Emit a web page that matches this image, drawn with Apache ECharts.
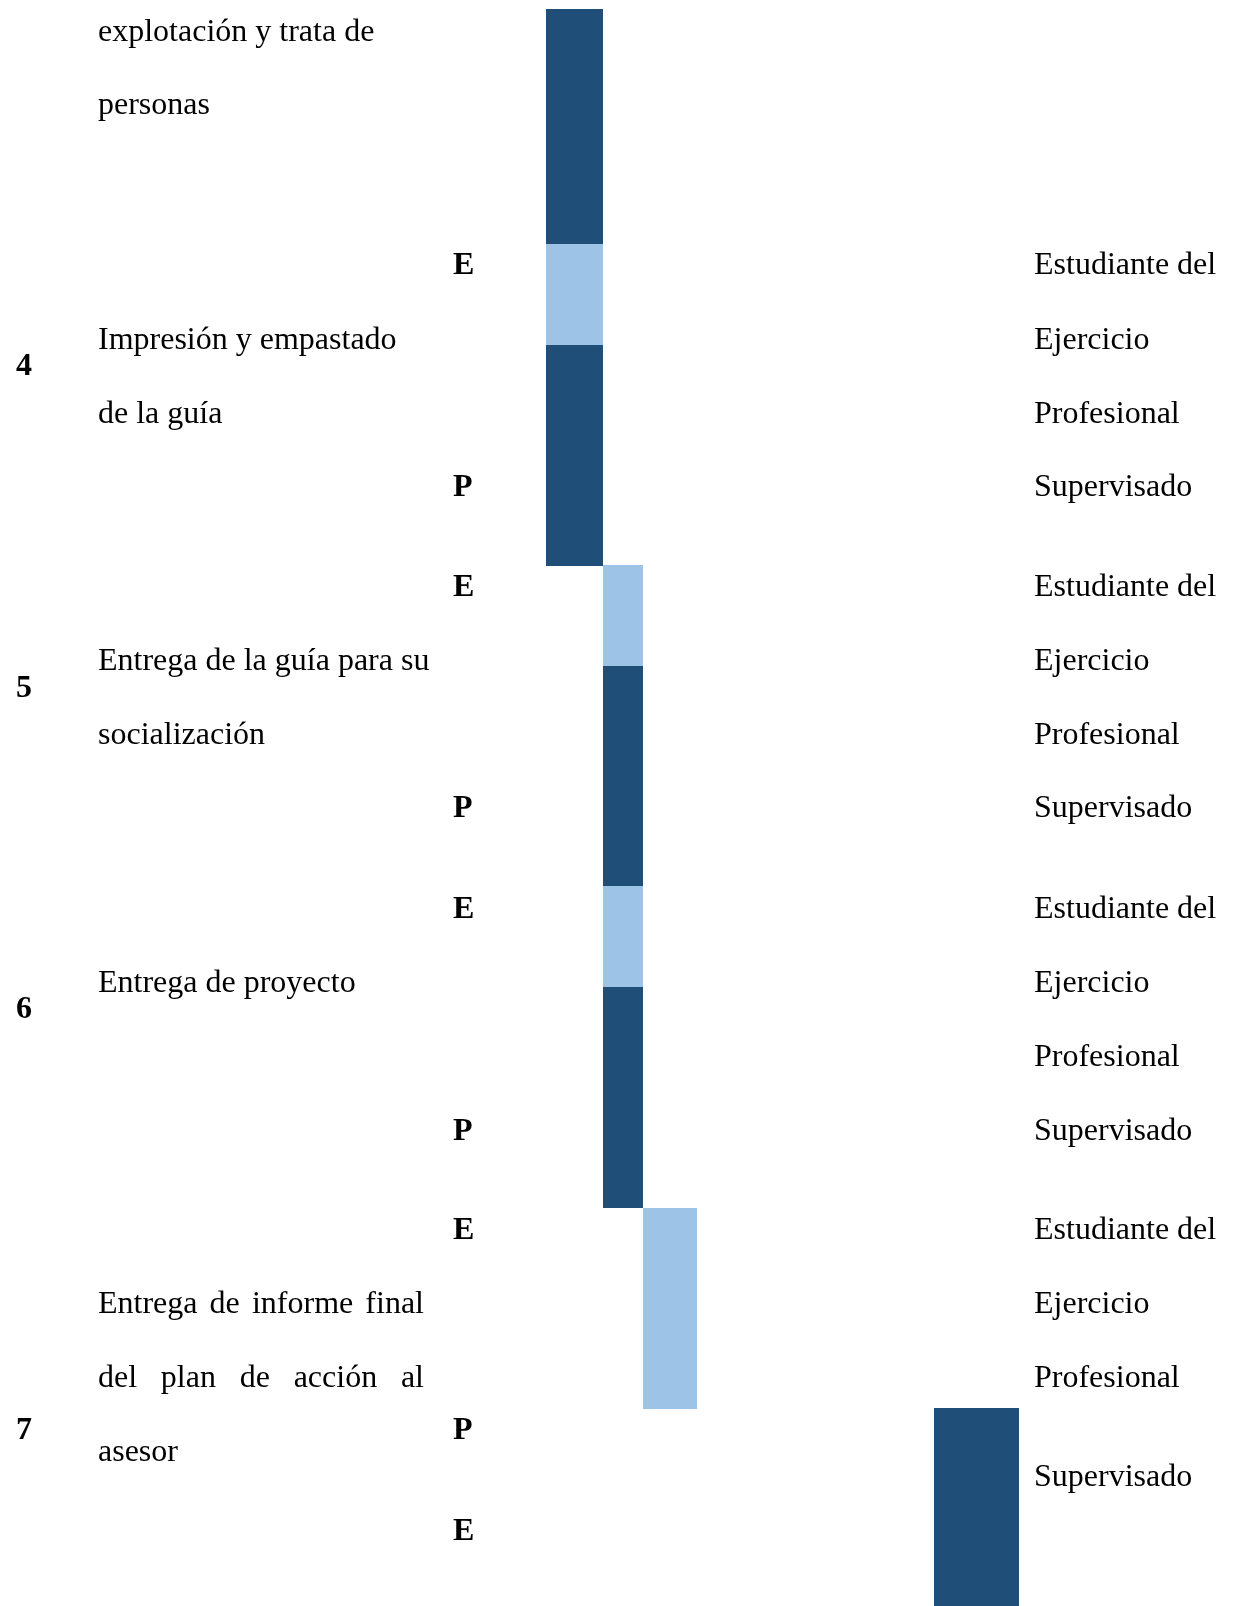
<!DOCTYPE html>
<html><head><meta charset="utf-8">
<script src="https://cdn.jsdelivr.net/npm/echarts@6/dist/echarts.min.js"></script>
<style>html,body{margin:0;padding:0;background:#fff;}#c{width:1233px;height:1606px;}</style>
</head><body><div id="c"></div>
<script>
// Week columns of the schedule table (start / end on the x scale)
const weekColumns = [[546, 603], [603, 643], [643, 697], [934, 1019]];
// Bars: [week column index, start row, end row, kind]  E = ejecutado (light), P = programado (dark)
const bars = [
  [0, 9, 244, 'P'],
  [0, 244, 345, 'E'],
  [0, 345, 566, 'P'],
  [1, 565, 666, 'E'],
  [1, 666, 886, 'P'],
  [1, 886, 987, 'E'],
  [1, 987, 1208, 'P'],
  [2, 1208, 1409, 'E'],
  [3, 1408, 1606, 'P']
];
// Task numbers: [text, row]
const taskNumbers = [['4', 365], ['5', 687], ['6', 1008], ['7', 1429]];
// E / P labels: [text, row]
const epLabels = [['E', 264], ['P', 486], ['E', 586], ['P', 807], ['E', 908], ['P', 1130], ['E', 1229], ['P', 1429], ['E', 1530]];
// Activity lines: [text, row, justified]
const activityLines = [
  ['explotación y trata de', 31, false],
  ['personas', 104, false],
  ['Impresión y empastado', 339, false],
  ['de la guía', 413, false],
  ['Entrega de la guía para su', 660, false],
  ['socialización', 734, false],
  ['Entrega de proyecto', 982, false],
  ['Entrega de informe final', 1303, true],
  ['del plan de acción al', 1377, true],
  ['asesor', 1451, false]
];
// Responsible lines: [text, row]
const responsibleLines = [
  ['Estudiante del', 264], ['Ejercicio', 339], ['Profesional', 413], ['Supervisado', 486],
  ['Estudiante del', 586], ['Ejercicio', 660], ['Profesional', 734], ['Supervisado', 807],
  ['Estudiante del', 908], ['Ejercicio', 982], ['Profesional', 1056], ['Supervisado', 1130],
  ['Estudiante del', 1229], ['Ejercicio', 1303], ['Profesional', 1377], ['Supervisado', 1476]
];

// Table column anchors on the x scale
const COL_NUM = 16, COL_ACT = 98, COL_ACT_END = 424, COL_EP = 453, COL_RESP = 1034;
const FAMILY = '"Liberation Serif", "Times New Roman", serif';
const SIZE = 32;
const Y_SHIFT = 2;
const DARK = '#1F4E79', LIGHT = '#9DC3E6';

const textItems = [];
taskNumbers.forEach(d => textItems.push({x: COL_NUM, y: d[1], text: d[0], bold: true}));
epLabels.forEach(d => textItems.push({x: COL_EP, y: d[1], text: d[0], bold: true}));
activityLines.forEach(d => textItems.push({x: COL_ACT, y: d[1], text: d[0], bold: false, justify: d[2]}));
responsibleLines.forEach(d => textItems.push({x: COL_RESP, y: d[1], text: d[0], bold: false}));

const mctx = document.createElement('canvas').getContext('2d');
function fontOf(bold) { return (bold ? 'bold ' : '') + SIZE + 'px ' + FAMILY; }

const chart = echarts.init(document.getElementById('c'));
chart.setOption({
  animation: false,
  backgroundColor: '#ffffff',
  grid: {left: 0, right: 0, top: 0, bottom: 0},
  xAxis: {type: 'value', min: 0, max: 1233, show: false},
  yAxis: {type: 'value', min: 0, max: 1606, inverse: true, show: false},
  series: [
    {
      type: 'custom',
      data: bars.map(b => [weekColumns[b[0]][0], weekColumns[b[0]][1], b[1], b[2], b[3] === 'E' ? 0 : 1]),
      renderItem: function (params, api) {
        const p0 = api.coord([api.value(0), api.value(2)]);
        const p1 = api.coord([api.value(1), api.value(3)]);
        return {
          type: 'rect',
          shape: {x: p0[0], y: p0[1], width: p1[0] - p0[0], height: p1[1] - p0[1]},
          style: {fill: api.value(4) === 0 ? LIGHT : DARK}
        };
      }
    },
    {
      type: 'custom',
      data: textItems.map(t => [t.x, t.y]),
      renderItem: function (params, api) {
        const item = textItems[params.dataIndex];
        const p = api.coord([api.value(0), api.value(1)]);
        const y = p[1] + Y_SHIFT;
        const font = fontOf(item.bold);
        if (!item.justify) {
          return {type: 'text', style: {x: p[0], y: y, text: item.text, font: font, fill: '#000',
            textAlign: 'left', textVerticalAlign: 'middle', align: 'left', verticalAlign: 'middle'}};
        }
        const right = api.coord([COL_ACT_END, api.value(1)])[0];
        const words = item.text.split(' ');
        mctx.font = font;
        const widths = words.map(w => mctx.measureText(w).width);
        const total = widths.reduce((a, b) => a + b, 0);
        const gap = (right - p[0] - total) / (words.length - 1);
        let cx = p[0];
        const children = words.map((w, i) => {
          const el = {type: 'text', style: {x: cx, y: y, text: w, font: font, fill: '#000',
            textAlign: 'left', textVerticalAlign: 'middle', align: 'left', verticalAlign: 'middle'}};
          cx += widths[i] + gap;
          return el;
        });
        return {type: 'group', children: children};
      }
    }
  ]
});
</script>
</body></html>
